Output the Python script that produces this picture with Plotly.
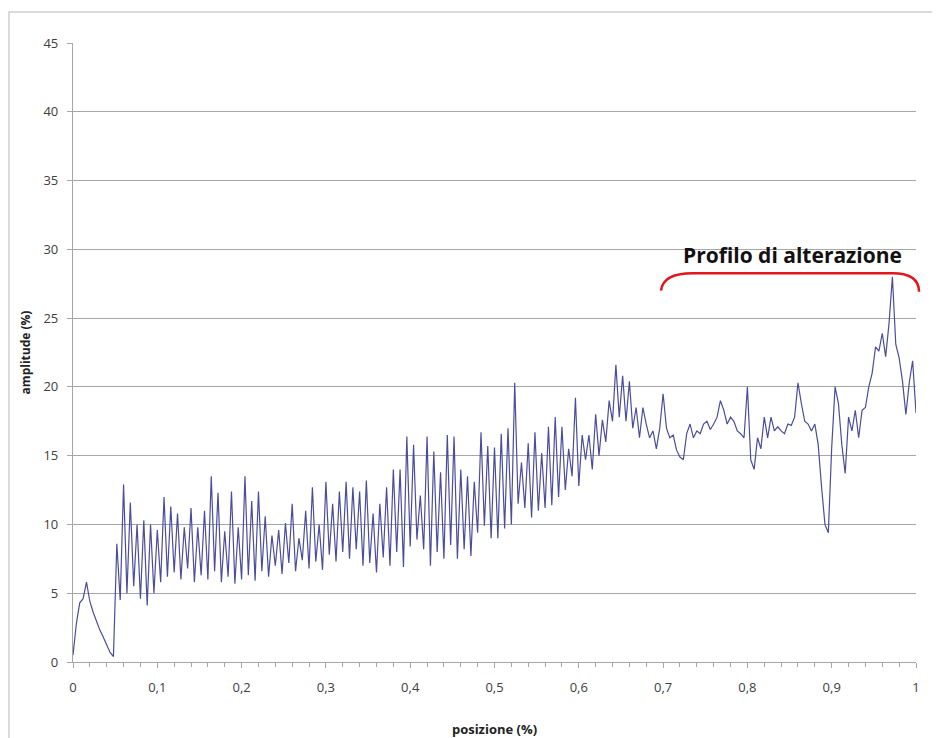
import numpy as np
import plotly.graph_objects as go

# amplitude (%) sampled uniformly along posizione 0..1
amp = [
    0.5, 2.8, 4.3, 4.6, 5.8, 4.4, 3.6, 2.9, 2.3, 1.8,
    1.2, 0.7, 0.4, 8.6, 4.5, 12.9, 5.0, 11.6, 5.5, 10.0,
    4.6, 10.3, 4.1, 10.0, 5.0, 9.6, 5.8, 12.0, 6.2, 11.3,
    6.5, 10.8, 6.0, 9.8, 6.8, 11.2, 5.8, 9.8, 6.3, 11.0,
    6.0, 13.5, 6.6, 12.3, 5.8, 9.5, 6.2, 12.4, 5.7, 9.8,
    6.0, 13.5, 6.3, 11.7, 5.9, 12.4, 6.6, 10.6, 6.2, 9.2,
    7.0, 9.6, 6.4, 10.1, 7.2, 11.5, 6.6, 9.0, 7.4, 11.0,
    6.8, 12.7, 7.3, 10.0, 6.7, 13.1, 7.8, 11.5, 7.3, 12.4,
    8.0, 13.1, 7.5, 12.7, 8.2, 12.4, 7.0, 13.2, 7.2, 10.8,
    6.5, 11.5, 7.6, 12.7, 7.0, 14.0, 8.0, 14.0, 6.9, 16.4,
    8.4, 15.8, 8.9, 12.1, 8.2, 16.4, 7.0, 15.3, 8.0, 13.8,
    7.5, 16.5, 8.5, 16.4, 7.5, 14.0, 8.2, 13.5, 7.7, 13.1,
    9.4, 16.7, 9.9, 15.7, 9.0, 15.6, 9.0, 16.6, 9.7, 17.0,
    10.0, 20.3, 11.5, 14.5, 11.2, 15.9, 10.5, 16.7, 11.0, 15.2,
    11.2, 17.1, 11.4, 17.8, 12.0, 17.1, 12.5, 15.5, 13.5, 19.2,
    12.8, 16.5, 14.7, 16.5, 14.0, 18.0, 15.0, 17.6, 16.0, 19.0,
    17.5, 21.6, 17.8, 20.8, 17.5, 20.4, 17.0, 18.5, 16.3, 18.5,
    17.3, 16.3, 16.8, 15.5, 17.0, 19.5, 17.0, 16.3, 16.5, 15.4,
    14.9, 14.7, 16.6, 17.3, 16.3, 16.8, 16.6, 17.3, 17.5, 16.9,
    17.3, 17.8, 19.0, 18.3, 17.3, 17.8, 17.5, 16.8, 16.6, 16.3,
    20.0, 14.7, 14.0, 16.3, 15.5, 17.8, 16.3, 17.8, 16.8, 17.1,
    16.8, 16.6, 17.3, 17.2, 17.8, 20.3, 18.8, 17.5, 17.3, 16.8,
    17.3, 15.8, 12.7, 10.0, 9.4, 15.6, 20.0, 18.8, 15.8, 13.7,
    17.8, 16.8, 18.3, 16.3, 18.3, 18.5, 20.0, 21.0, 22.9, 22.6,
    23.9, 22.2, 24.6, 28.0, 23.1, 22.1, 20.4, 18.0, 20.3, 21.9,
    18.1,
]
pos = np.linspace(0, 1, len(amp))

x_tickvals = [0, 0.1, 0.2, 0.3, 0.4, 0.5, 0.6, 0.7, 0.8, 0.9, 1]
x_ticktext = ["0", "0,1", "0,2", "0,3", "0,4", "0,5", "0,6", "0,7", "0,8", "0,9", "1"]
y_tickvals = [0, 5, 10, 15, 20, 25, 30, 35, 40, 45]

annot_text = "Profilo di alterazione"

tick_font = dict(family="Liberation Sans Narrow, Open Sans, Liberation Sans, sans-serif", size=13, color="#404040")

fig = go.Figure()
fig.add_trace(go.Scatter(
    x=pos, y=amp, mode="lines",
    line=dict(color="#4a4d9c", width=1.2),
    showlegend=False,
))

# page body has an 8px margin: plot area target is x 73..916, y 43..662
fig.update_layout(
    width=932, height=730,
    margin=dict(l=65, r=24, t=35, b=76, autoexpand=False),
    paper_bgcolor="white", plot_bgcolor="white",
    xaxis=dict(
        range=[0, 1], tickvals=x_tickvals, ticktext=x_ticktext,
        automargin=False,
        showgrid=False, zeroline=False,
        showline=True, linecolor="#a6a6a6", linewidth=1.3,
        ticks="outside", ticklen=5, tickcolor="#a6a6a6",
        ticklabelstandoff=8,
        minor=dict(dtick=0.02, ticks="outside", ticklen=4, tickcolor="#a6a6a6", showgrid=False),
        tickfont=tick_font,
        title=dict(text="<b>posizione (%)</b>", font=dict(family="Open Sans, Liberation Sans, sans-serif", size=13, color="#222"), standoff=35),
    ),
    yaxis=dict(
        range=[0, 45], tickvals=y_tickvals,
        automargin=False,
        showgrid=True, gridcolor="#a6a6a6", gridwidth=1.3,
        zeroline=False,
        showline=True, linecolor="#a6a6a6", linewidth=1.3,
        ticks="outside", ticklen=5, tickcolor="#a6a6a6",
        ticklabelstandoff=6,
        tickfont=tick_font,
        title=dict(text="<b>amplitude (%)</b>", font=dict(family="Open Sans, Liberation Sans, sans-serif", size=12, color="#222"), standoff=10),
    ),
    shapes=[
        # outer frame
        dict(type="rect", xref="paper", yref="paper",
             x0=(9 - 73) / 843, x1=(960 - 73) / 843,
             y0=(662 - 760) / 619, y1=(662 - 12) / 619,
             line=dict(color="#cfcfcf", width=1.5), fillcolor="rgba(0,0,0,0)", layer="below"),
        # red brace
        dict(type="path", xref="paper", yref="paper",
             path="M 0.6975,0.600 Q 0.700,0.628 0.735,0.628 L 0.972,0.628 Q 1.0036,0.628 1.0036,0.598",
             line=dict(color="#e3141b", width=2.5)),
    ],
    annotations=[
        dict(text="<b>" + annot_text + "</b>", xref="paper", yref="paper",
             x=(792 - 73) / 843, y=(662 - 255) / 619, showarrow=False,
             xanchor="center", yanchor="middle",
             font=dict(family="Open Sans, sans-serif", size=21, color="#111")),
    ],
)

fig.write_html("out.html")
